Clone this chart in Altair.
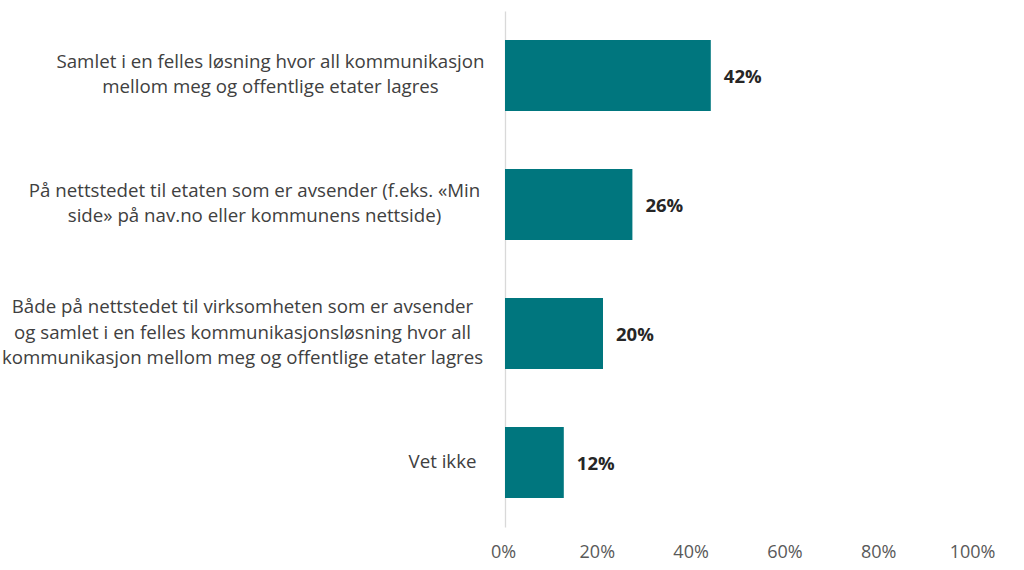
import altair as alt
import pandas as pd

categories = [
    "Samlet i en felles løsning hvor all kommunikasjon|mellom meg og offentlige etater lagres",
    "På nettstedet til etaten som er avsender (f.eks. «Min|side» på nav.no eller kommunens nettside)",
    "Både på nettstedet til virksomheten som er avsender|og samlet i en felles kommunikasjonsløsning hvor all|kommunikasjon mellom meg og offentlige etater lagres",
    "Vet ikke",
]
values = [0.42, 0.26, 0.20, 0.12]
value_labels = ["42%", "26%", "20%", "12%"]
x_ticks = [0.0, 0.2, 0.4, 0.6, 0.8, 1.0]

# label layout (not data): block centre distance from axis, line height
label_pads = [235, 251, 263, 63]
LINE_H = 25.5

df = pd.DataFrame({"cat": categories, "val": values, "lab": value_labels})
ticks_df = pd.DataFrame({"t": x_ticks})

FONT = "Open Sans"
BAR = "#00767E"

pad_cond = [
    {"test": f"datum.value == {repr(c)}", "value": p}
    for c, p in zip(categories, label_pads)
]
off_cond = [
    {"test": f"datum.value == {repr(c)}", "value": -(c.count("|")) * LINE_H / 2 - 1}
    for c in categories
]

y_enc = alt.Y(
    "cat:N",
    sort=categories,
    scale=alt.Scale(paddingInner=0.45, paddingOuter=0.225),
    axis=alt.Axis(
        title=None,
        labelExpr="split(datum.label, '|')",
        labelAlign="center",
        labelBaseline="middle",
        labelPadding={"condition": pad_cond, "value": 63},
        labelOffset={"condition": off_cond, "value": 0},
        labelFont=FONT,
        labelFontSize=18.7,
        labelColor="#404040",
        labelLineHeight=LINE_H,
        labelLimit=700,
        ticks=False,
        domainColor="#D9D9D9",
        domainWidth=1.3,
        grid=False,
    ),
)

x_enc = alt.X(
    "val:Q",
    scale=alt.Scale(domain=[0, 1], nice=False),
    axis=None,
)

bars = alt.Chart(df).mark_bar(color=BAR).encode(x=x_enc, y=y_enc)

texts = alt.Chart(df).mark_text(
    align="left", baseline="middle", dx=13, dy=1, font=FONT, fontSize=18.5,
    fontWeight="bold", color="#262626",
).encode(x=alt.X("val:Q", axis=None), y=alt.Y("cat:N", sort=categories), text="lab:N")

main = alt.layer(bars, texts)

axis_layer = alt.Chart(ticks_df).mark_point(opacity=0).encode(
    x=alt.X(
        "t:Q",
        scale=alt.Scale(domain=[0, 1], range=[-2, 467], nice=False, zero=False),
        axis=alt.Axis(
            title=None,
            values=x_ticks,
            format=".0%",
            labelFont=FONT,
            labelFontSize=18,
            labelColor="#595959",
            labelPadding=16,
            domain=False,
            ticks=False,
            grid=False,
            labelFlush=False,
            orient="bottom",
        ),
    ),
    y=alt.value(516),
)

chart = (
    alt.layer(main, axis_layer)
    .resolve_scale(x="independent")
    .properties(
        width=490,
        height=516,
        autosize=alt.AutoSizeParams(type="none"),
        padding={"left": 505, "top": 11, "right": 29, "bottom": 43},
        background="white",
    )
    .configure_view(stroke=None)
)

chart.save("out.html", embed_options={"renderer": "svg", "actions": False})
